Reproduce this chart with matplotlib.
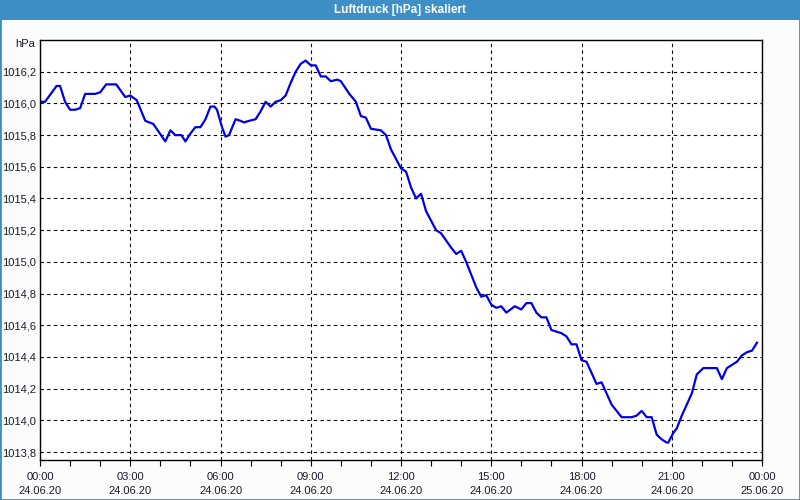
import matplotlib
matplotlib.use('Agg')
import matplotlib.pyplot as plt
from matplotlib.patches import Rectangle
from matplotlib.ticker import MultipleLocator

# Data: minutes after 00:00 on 24.06.20 and pressure in hPa
minutes = [0, 10, 33, 40, 50, 60, 70, 80,
           90, 110, 120, 132, 152, 170, 180, 193,
           210, 226, 250, 260, 270, 282, 290, 300,
           310, 320, 330, 340, 348, 353, 363, 370,
           377, 390, 400, 407, 417, 430, 440, 450,
           460, 470, 480, 490, 500, 510, 520, 530,
           540, 550, 560, 570, 580, 593, 600, 617,
           630, 640, 650, 660, 680, 690, 700, 710,
           720, 730, 740, 750, 760, 770, 790, 800,
           820, 830, 840, 850, 870, 880, 890, 900,
           910, 920, 930, 947, 960, 970, 980, 990,
           1000, 1010, 1020, 1030, 1040, 1050, 1060, 1070,
           1080, 1090, 1110, 1120, 1140, 1160, 1180, 1190,
           1200, 1210, 1220, 1230, 1240, 1250, 1253, 1263,
           1270, 1280, 1300, 1310, 1323, 1350, 1360, 1370,
           1380, 1390, 1400, 1410, 1420, 1430]
pressure = [1016.01, 1016.01, 1016.11, 1016.11, 1016.01, 1015.96, 1015.96, 1015.97,
            1016.06, 1016.06, 1016.07, 1016.12, 1016.12, 1016.04, 1016.05, 1016.02,
            1015.89, 1015.87, 1015.76, 1015.83, 1015.80, 1015.80, 1015.76, 1015.81,
            1015.85, 1015.85, 1015.90, 1015.98, 1015.98, 1015.96, 1015.85, 1015.79,
            1015.80, 1015.90, 1015.89, 1015.88, 1015.89, 1015.90, 1015.95, 1016.01,
            1015.98, 1016.01, 1016.02, 1016.05, 1016.13, 1016.20, 1016.25, 1016.27,
            1016.24, 1016.24, 1016.17, 1016.17, 1016.14, 1016.15, 1016.14, 1016.06,
            1016.01, 1015.92, 1015.91, 1015.84, 1015.83, 1015.80, 1015.71, 1015.65,
            1015.59, 1015.57, 1015.47, 1015.40, 1015.43, 1015.32, 1015.20, 1015.18,
            1015.09, 1015.05, 1015.07, 1015.00, 1014.84, 1014.78, 1014.79, 1014.73,
            1014.71, 1014.72, 1014.68, 1014.72, 1014.70, 1014.74, 1014.74, 1014.68,
            1014.65, 1014.65, 1014.57, 1014.56, 1014.55, 1014.53, 1014.48, 1014.48,
            1014.38, 1014.37, 1014.23, 1014.24, 1014.10, 1014.02, 1014.02, 1014.03,
            1014.06, 1014.02, 1014.02, 1013.91, 1013.88, 1013.86, 1013.86, 1013.92,
            1013.95, 1014.03, 1014.17, 1014.29, 1014.33, 1014.33, 1014.26, 1014.33,
            1014.35, 1014.37, 1014.41, 1014.43, 1014.44, 1014.49]
x_ticks = [0, 3, 6, 9, 12, 15, 18, 21, 24]
x_labels = ['00:00\n24.06.20', '03:00\n24.06.20', '06:00\n24.06.20',
            '09:00\n24.06.20', '12:00\n24.06.20', '15:00\n24.06.20',
            '18:00\n24.06.20', '21:00\n24.06.20', '00:00\n25.06.20']
y_ticks = [1013.8, 1014.0, 1014.2, 1014.4, 1014.6, 1014.8, 1015.0,
           1015.2, 1015.4, 1015.6, 1015.8, 1016.0, 1016.2]

title_blue = '#3d8fc6'
text_col = '#1a1a2e'

plt.rcParams['font.family'] = ['Liberation Sans', 'DejaVu Sans']

hours = [m / 60.0 for m in minutes]

fig = plt.figure(figsize=(8, 5), dpi=100, facecolor='#fbfdfc')
ax = fig.add_axes([0.05, 0.08, 0.9025, 0.84])

ax.plot(hours, pressure, color='#0000e6', lw=1.6, solid_joinstyle='round')

ax.set_xlim(0, 24)
ax.set_ylim(1013.75, 1016.4)
ax.set_xticks(x_ticks)
ax.set_xticklabels(x_labels, linespacing=1.5)
ax.xaxis.set_minor_locator(MultipleLocator(1))
ax.set_yticks(y_ticks)
ax.set_yticklabels([('%.1f' % v).replace('.', ',') for v in y_ticks])

ax.grid(True, which='major', color='black', ls=(0, (3, 3)), lw=0.8)
ax.tick_params(axis='x', which='both', direction='out', length=4,
               width=0.8, labelsize=8, pad=5, colors='black',
               labelcolor=text_col)
ax.tick_params(axis='y', length=0, labelsize=8, pad=3, labelcolor=text_col)
for s in ax.spines.values():
    s.set_linewidth(1.0)
    s.set_color('black')
ax.set_facecolor('white')

ax.text(-0.007, 1.002, 'hPa', transform=ax.transAxes, ha='right',
        va='top', fontsize=8, color=text_col)

# title bar and window frame
fig.patches.append(Rectangle((0, 0.96), 1, 0.04, transform=fig.transFigure,
                             facecolor=title_blue, edgecolor='none',
                             zorder=0))
fig.patches.append(Rectangle((0, 0), 1, 1, transform=fig.transFigure,
                             facecolor='none', edgecolor=title_blue,
                             lw=2.0, zorder=1))
fig.text(0.5, 0.98, 'Luftdruck [hPa] skaliert', ha='center', va='center',
         color='white', fontsize=8.5, fontweight='bold')

plt.savefig('out.png', dpi=100, facecolor=fig.get_facecolor())
